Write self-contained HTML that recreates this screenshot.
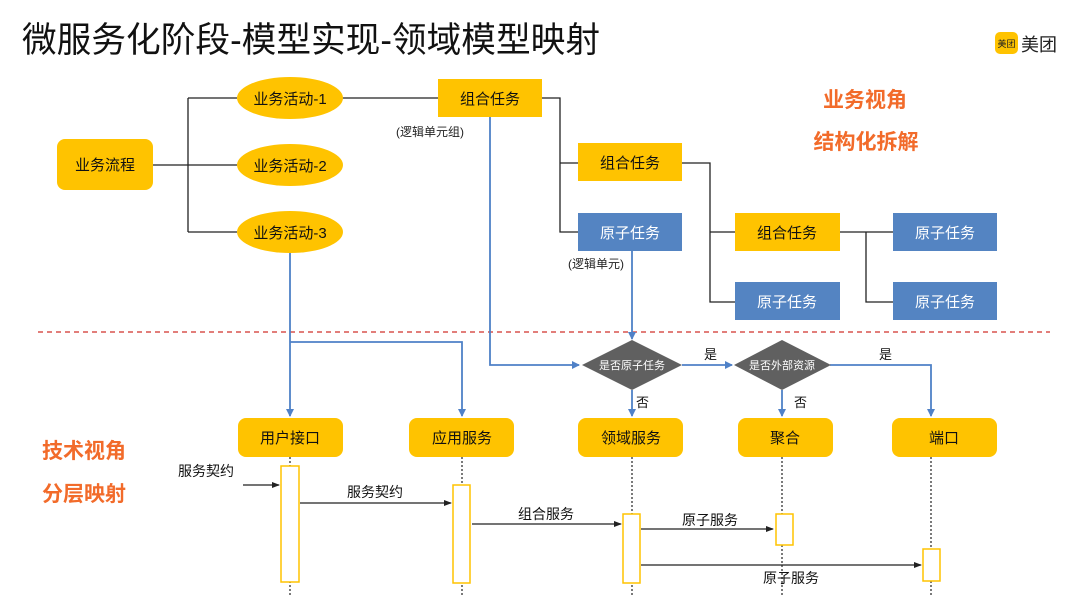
<!DOCTYPE html>
<html><head><meta charset="utf-8"><style>
html,body{margin:0;padding:0;background:#fff;}
svg{display:block;font-family:"Liberation Sans","Noto Sans CJK SC",sans-serif;}
</style></head><body>
<svg width="1080" height="596" viewBox="0 0 1080 596" xmlns="http://www.w3.org/2000/svg">
<defs>
<marker id="ab" markerWidth="8" markerHeight="8" refX="7" refY="4" orient="auto" markerUnits="userSpaceOnUse"><path d="M0,0 L8,4 L0,8 z" fill="#4f81c7"/></marker>
<marker id="ak" markerWidth="8" markerHeight="8" refX="7" refY="4" orient="auto" markerUnits="userSpaceOnUse"><path d="M0,1 L8,4 L0,7 z" fill="#222"/></marker>
</defs>
<text x="22" y="52" font-size="35" fill="#111" textLength="578" lengthAdjust="spacingAndGlyphs">微服务化阶段-模型实现-领域模型映射</text>
<rect x="995" y="32" width="23" height="22" rx="5" fill="#ffc300"/>
<text x="1006.5" y="47" font-size="9" text-anchor="middle" fill="#222">美团</text>
<text x="1021" y="51" font-size="18" fill="#222">美团</text>

<g stroke="#222" stroke-width="1.3" fill="none">
<path d="M153,165 H237 M188,98 V232 M188,98 H237 M188,232 H237"/>
<path d="M332,98 H438"/>
<path d="M542,98 H560 V232 H578 M560,163 H578"/>
<path d="M682,163 H710 V302 H735 M710,232 H735"/>
<path d="M830,232 H866 V302 H893 M866,232 H893"/>
</g>

<g font-size="15" text-anchor="middle" fill="#111">
<rect x="57" y="139" width="96" height="51" rx="8" fill="#ffc300"/>
<text x="105" y="170">业务流程</text>
<ellipse cx="290" cy="98" rx="53" ry="21" fill="#ffc300"/><text x="290" y="104">业务活动-1</text>
<ellipse cx="290" cy="165" rx="53" ry="21" fill="#ffc300"/><text x="290" y="171">业务活动-2</text>
<ellipse cx="290" cy="232" rx="53" ry="21" fill="#ffc300"/><text x="290" y="238">业务活动-3</text>
<rect x="438" y="79" width="104" height="38" fill="#ffc300"/><text x="490" y="104">组合任务</text>
<rect x="578" y="143" width="104" height="38" fill="#ffc300"/><text x="630" y="168">组合任务</text>
<rect x="735" y="213" width="105" height="38" fill="#ffc300"/><text x="787" y="238">组合任务</text>
</g>
<g font-size="15" text-anchor="middle" fill="#fff">
<rect x="578" y="213" width="104" height="38" fill="#5484c2"/><text x="630" y="238">原子任务</text>
<rect x="735" y="282" width="105" height="38" fill="#5484c2"/><text x="787" y="307">原子任务</text>
<rect x="893" y="213" width="104" height="38" fill="#5484c2"/><text x="945" y="238">原子任务</text>
<rect x="893" y="282" width="104" height="38" fill="#5484c2"/><text x="945" y="307">原子任务</text>
</g>
<text x="430" y="136" font-size="12" text-anchor="middle" fill="#222">(逻辑单元组)</text>
<text x="596" y="268" font-size="12" text-anchor="middle" fill="#222">(逻辑单元)</text>

<g font-size="21" font-weight="bold" fill="#f26b2a" text-anchor="middle">
<text x="865" y="107">业务视角</text>
<text x="866" y="149">结构化拆解</text>
<text x="84" y="458">技术视角</text>
<text x="84" y="501">分层映射</text>
</g>

<line x1="38" y1="332" x2="1050" y2="332" stroke="#d9534f" stroke-width="1.5" stroke-dasharray="5,4"/>

<g stroke="#4f81c7" stroke-width="1.8" fill="none">
<path d="M490,117 V365 H579" marker-end="url(#ab)"/>
<path d="M632,251 V339" marker-end="url(#ab)"/>
<path d="M682,365 H732" marker-end="url(#ab)"/>
<path d="M830,365 H931 V416" marker-end="url(#ab)"/>
<path d="M632,390 V416" marker-end="url(#ab)"/>
<path d="M782,390 V416" marker-end="url(#ab)"/>
<path d="M290,253 V416" marker-end="url(#ab)"/>
<path d="M290,342 H462 V416" marker-end="url(#ab)"/>
</g>
<polygon points="632,340 682,365 632,390 582,365" fill="#606060"/>
<polygon points="782,340 831,365 782,390 734,365" fill="#606060"/>
<text x="632" y="369" font-size="11" text-anchor="middle" fill="#fff">是否原子任务</text>
<text x="782" y="369" font-size="11" text-anchor="middle" fill="#fff">是否外部资源</text>
<g font-size="13" fill="#111">
<text x="704" y="359">是</text><text x="879" y="359">是</text>
<text x="636" y="407">否</text><text x="794" y="407">否</text>
</g>

<g stroke="#333" stroke-width="1.3" stroke-dasharray="2,2">
<path d="M290,457 V596 M462,457 V596 M632,457 V596 M782,457 V596 M931,457 V596"/>
</g>
<g font-size="15" text-anchor="middle" fill="#111">
<rect x="238" y="418" width="105" height="39" rx="8" fill="#ffc300"/><text x="290" y="443">用户接口</text>
<rect x="409" y="418" width="105" height="39" rx="8" fill="#ffc300"/><text x="462" y="443">应用服务</text>
<rect x="578" y="418" width="105" height="39" rx="8" fill="#ffc300"/><text x="631" y="443">领域服务</text>
<rect x="738" y="418" width="95" height="39" rx="8" fill="#ffc300"/><text x="785" y="443">聚合</text>
<rect x="892" y="418" width="105" height="39" rx="8" fill="#ffc300"/><text x="944" y="443">端口</text>
</g>
<g fill="#fff" stroke="#ffc300" stroke-width="1.5">
<rect x="281" y="466" width="18" height="116"/>
<rect x="453" y="485" width="17" height="98"/>
<rect x="623" y="514" width="17" height="69"/>
<rect x="776" y="514" width="17" height="31"/>
<rect x="923" y="549" width="17" height="32"/>
</g>
<g stroke="#222" stroke-width="1.3">
<line x1="243" y1="485" x2="279" y2="485" marker-end="url(#ak)"/>
<line x1="300" y1="503" x2="451" y2="503" marker-end="url(#ak)"/>
<line x1="472" y1="524" x2="621" y2="524" marker-end="url(#ak)"/>
<line x1="641" y1="529" x2="773" y2="529" marker-end="url(#ak)"/>
<line x1="641" y1="565" x2="921" y2="565" marker-end="url(#ak)"/>
</g>
<g font-size="14" fill="#111" text-anchor="middle">
<text x="206" y="476">服务契约</text>
<text x="375" y="497">服务契约</text>
<text x="546" y="519">组合服务</text>
<text x="710" y="525">原子服务</text>
<text x="791" y="583">原子服务</text>
</g>
</svg>
</body></html>
